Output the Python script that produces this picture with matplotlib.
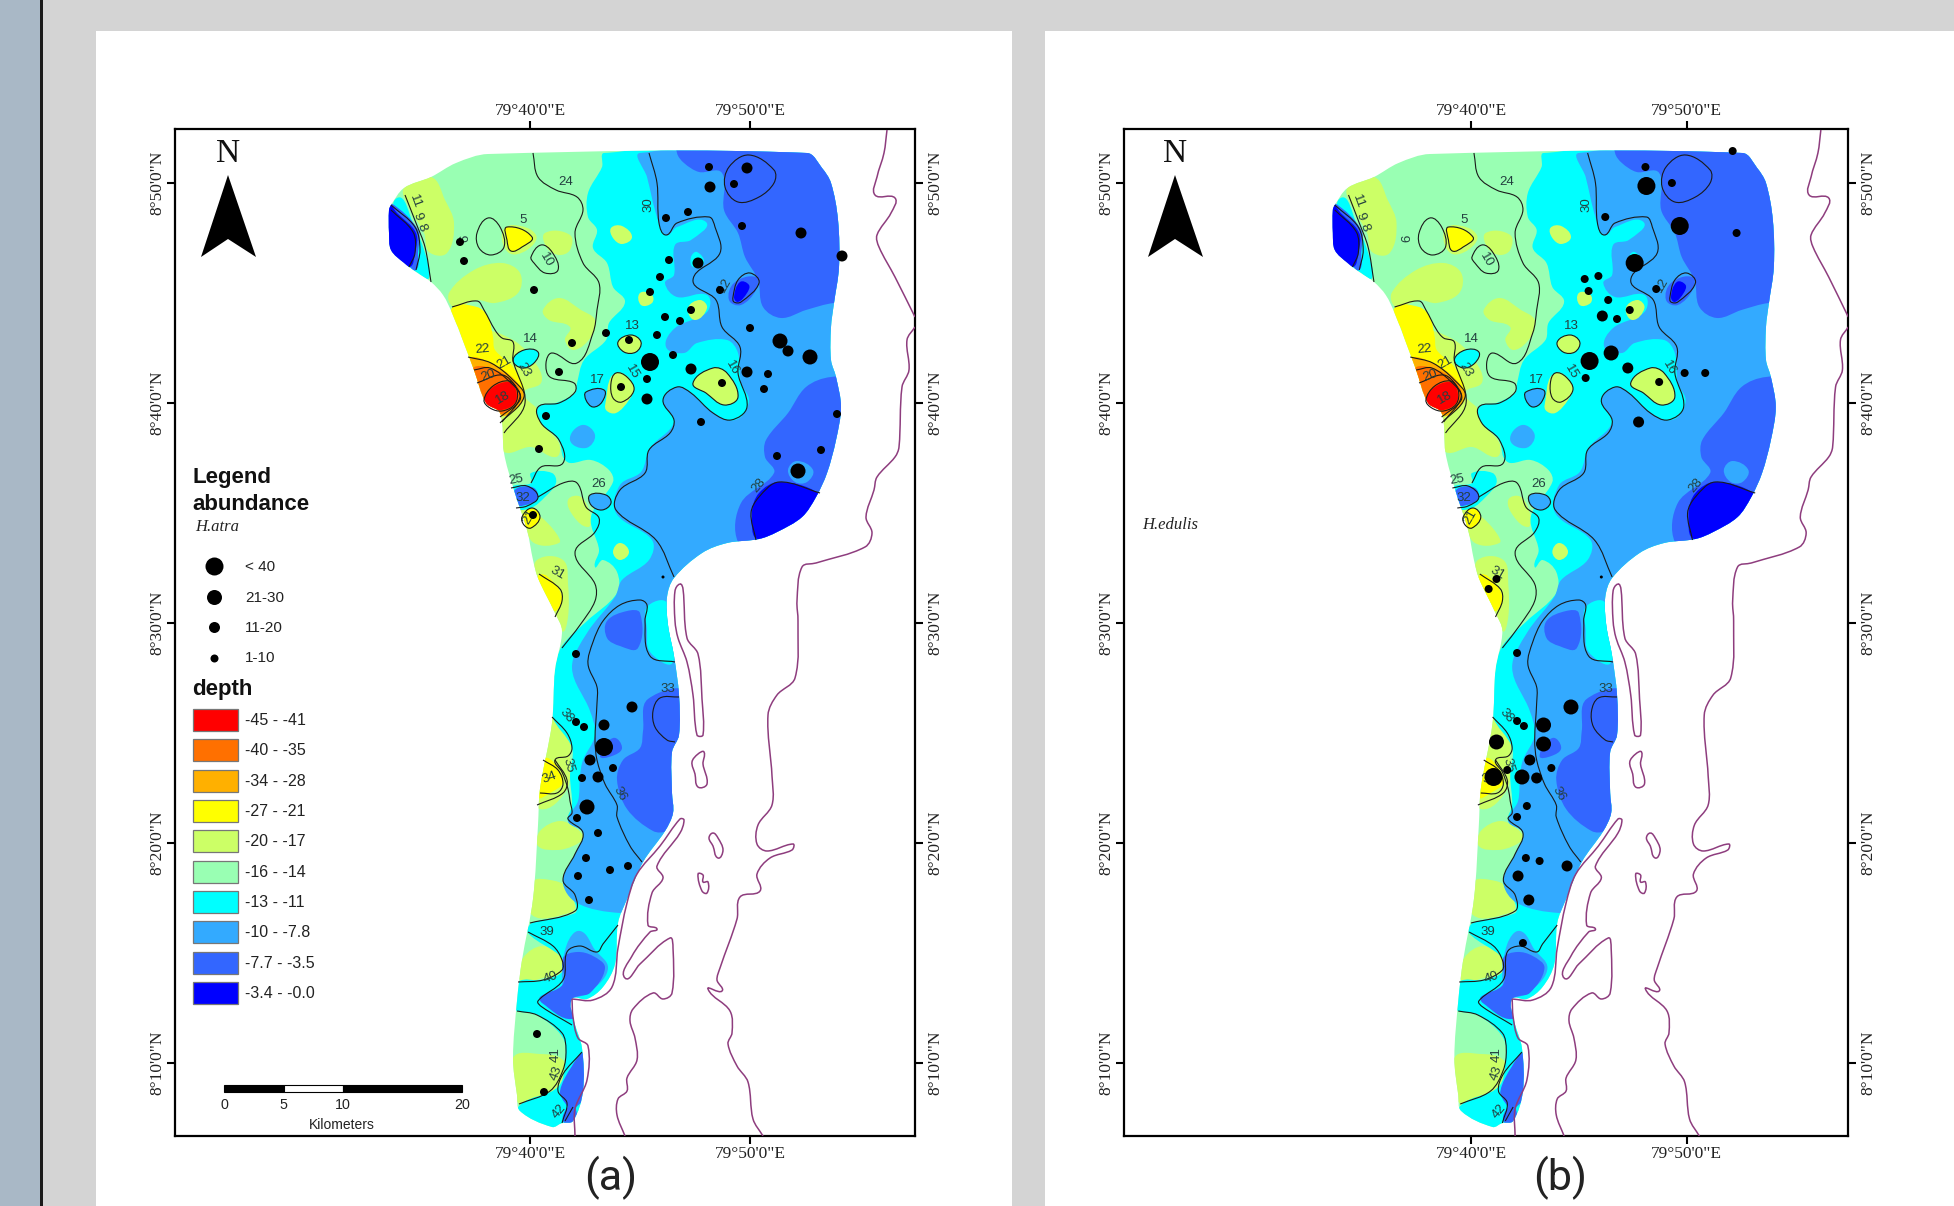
import math
import matplotlib
matplotlib.use('Agg')
import matplotlib.pyplot as plt
from matplotlib.patches import Rectangle, Polygon, PathPatch
from matplotlib.path import Path

W, H = 1954, 1206

# everything below is in map grid units: 22 units = 1 arc minute
# origin of the grid: 79d40'E is at x=530, 8d40'N is at y=403, y grows southward
outline = [(389,210),(391,205),(404,188),(431,177),(456,163),(488,154),(807,153),(822,168),(831,183),(838,220),
           (839,267),(834,303),(831,327),(831,360),(836,377),(841,407),(836,440),(827,473),(816,497),(802,517),
           (777,532),(759,539),(727,543),(702,553),(674,578),(667,597),(668,625),(674,656),(679,695),(679,735),
           (672,752),(672,793),(673,813),(665,831),(643,862),(627,899),(618,923),(615,964),(603,987),(587,999),
           (572,999),(574,1021),(582,1048),(583,1091),(573,1121),(562,1123),(552,1127),(520,1111),(517,1095),(513,1058),
           (517,1001),(522,960),(533,899),(538,825),(540,789),(552,723),(555,670),(562,631),(555,613),(538,578),
           (533,560),(527,530),(513,487),(504,453),(500,413),(486,403),(474,370),(452,313),(443,295),(431,282),
           (416,272),(404,263),(391,250),(389,233)]

lime_patches = [
    [(404,188),(431,177),(445,200),(454,223),(447,253),(429,252),(424,233),(409,207)],
    [(449,293),(474,270),(502,263),(520,273),(518,293),(495,303),(477,300),(454,307)],
    [(502,233),(513,225),(536,235),(527,250),(509,253)],
    [(545,233),(570,235),(570,250),(559,255),(547,248)],
    [(543,310),(559,298),(581,310),(595,320),(591,337),(574,350),(565,340),(570,327),(549,320)],
    [(480,335),(513,340),(538,367),(541,383),(524,393),(538,410),(541,423),(559,443),(556,457),(531,447),(504,452),(480,420)],
    [(520,503),(541,517),(556,533),(559,543),(534,543),(524,523)],
    [(568,500),(581,497),(591,517),(588,527),(574,517)],
    [(537,560),(563,560),(568,584),(568,617),(562,631),(537,580)],
    [(552,717),(570,735),(570,756),(567,789),(540,809),(530,780)],
    [(540,831),(560,821),(577,829),(583,838),(573,846),(557,850),(538,846)],
    [(533,882),(550,880),(567,887),(575,907),(570,913),(532,915)],
    [(523,958),(543,946),(562,958),(562,972),(543,978),(520,980)],
    [(513,1058),(540,1054),(563,1060),(563,1078),(547,1095),(518,1103)],
]
yellow_patches = [
    [(452,308),(477,307),(488,317),(493,337),(495,350),(513,367),(524,393),(511,410),(500,413),(477,383),(459,330)],
    [(507,227),(532,237),(522,247),(511,251),(507,240)],
    [(522,517),(532,508),(540,517),(531,528),(524,525)],
    [(538,576),(547,576),(562,597),(553,611),(540,589)],
    [(545,758),(555,764),(563,782),(550,793),(538,797),(543,768)],
]
amber_patches = [[(468,360),(491,363),(515,380),(524,397),(511,413),(499,415),(481,387)]]
orange_patches = [[(472,370),(491,368),(515,383),(520,397),(507,412),(497,413),(484,400)]]
red_patches = [[(484,400),(493,387),(509,382),(516,390),(515,403),(502,410),(490,407)]]

cyan_patches = [
    [(604,153),(602,167),(588,193),(588,217),(597,230),(593,248),(607,263),(613,287),(625,302),(609,323),
     (606,340),(584,360),(577,383),(575,393),(556,403),(538,407),(541,423),(559,440),(563,457),(570,463),
     (591,460),(609,470),(613,482),(591,517),(599,550),(595,567),(603,560),(617,572),(617,593),(587,621),
     (562,646),(555,670),(552,715),(572,748),(570,776),(572,805),(568,821),(583,833),(575,854),(563,882),
     (575,903),(575,913),(532,923),(528,933),(562,958),(562,972),(543,980),(518,982),(513,1005),(517,1011),
     (537,1015),(563,1038),(565,1062),(558,1087),(520,1105),(513,1131),(713,1131),(900,800),(900,153)],
    [(397,198),(413,223),(425,253),(429,278),(418,273),(406,263),(400,230)],
    [(511,488),(531,483),(531,473),(552,473),(556,483),(545,497),(531,508),(516,508)],
    [(513,360),(524,350),(538,352),(534,363),(522,368)],
]
lightblue_patches = [
    [(640,153),(647,177),(657,217),(666,235),(677,227),(706,222),(691,240),(675,245),(674,275),(665,283),
     (677,297),(707,295),(707,312),(675,328),(666,347),(684,353),(697,343),(727,340),(738,353),(741,383),
     (749,400),(741,417),(727,420),(706,407),(684,388),(670,390),(663,403),(674,422),(650,448),(641,472),
     (620,485),(616,513),(652,540),(649,560),(622,580),(615,597),(587,633),(572,668),(590,711),(595,735),
     (583,760),(580,776),(578,801),(568,821),(583,833),(575,854),(563,882),(577,903),(620,913),(713,913),
     (900,800),(900,153)],
    [(586,392),(604,390),(602,402),(593,407),(586,400)],
    [(582,425),(595,435),(586,448),(570,440)],
    [(590,495),(606,495),(611,503),(602,510),(591,505)],
    [(567,944),(580,931),(595,950),(608,968),(593,989),(570,997),(562,980)],
]
cyan_pockets = [
    [(647,607),(667,603),(673,662),(650,652),(647,629)],
    [(697,252),(704,263),(693,267),(691,257)],
]
midblue_patches = [
    [(677,153),(684,163),(699,172),(722,173),(724,210),(738,233),(745,257),(758,280),(763,307),(781,318),
     (806,310),(834,303),(900,300),(900,130),(677,130)],
    [(734,283),(756,277),(756,290),(741,305),(729,300)],
    [(831,377),(806,387),(788,413),(766,440),(765,457),(774,473),(741,503),(738,542),(763,553),(900,500),(900,377)],
    [(391,203),(418,230),(418,253),(416,270),(406,263),(380,250),(380,205)],
    [(513,493),(520,487),(534,488),(538,497),(532,503),(516,505)],
    [(607,621),(627,611),(640,613),(638,648),(620,646),(607,638)],
    [(648,699),(690,695),(690,815),(667,831),(653,831),(627,809),(617,780),(623,760),(640,748),(643,731)],
    [(613,738),(622,748),(612,756),(600,756)],
    [(563,958),(577,952),(593,956),(605,968),(590,993),(573,999),(572,1019),(542,1003),(540,997),(563,984)],
    [(560,1091),(572,1066),(584,1054),(587,1091),(573,1109),(565,1103)],
    [(563,1121),(568,1107),(575,1107),(575,1125)],
]
lightblue_pockets = [[(788,470),(797,461),(813,470),(807,482),(795,482)]]
deep_patches = [
    [(389,205),(397,213),(416,233),(415,253),(409,267),(380,253)],
    [(734,297),(740,282),(749,285),(747,293),(738,302)],
    [(779,482),(818,493),(816,507),(759,539),(752,513),(759,493)],
]
lime_blobs = [
    [(611,228),(622,226),(632,237),(622,244),(613,238)],
    [(640,293),(652,295),(652,303),(641,305)],
    [(688,308),(700,300),(707,308),(695,320)],
    [(620,543),(629,552),(620,560),(613,552)],
    [(611,377),(622,373),(634,387),(629,400),(616,413),(606,410),(606,400)],
    [(693,383),(713,368),(727,373),(738,397),(724,405),(706,393)],
    [(618,342),(631,335),(641,342),(636,352),(624,352)],
]

contours_open = [
    [(533,153),(538,177),(556,190),(577,197),(583,210),(575,233),(583,263),(599,283),(597,310),(593,333),(577,363),
     (552,353),(546,363),(550,377),(574,383),(575,392),(559,403),(538,407),(541,423),(559,440),(563,463),(541,467),(531,483)],
    [(538,497),(563,483),(577,483),(586,507),(599,518),(595,532),(575,553),(595,584),(595,601),(580,625),(562,648)],
    [(649,153),(657,183),(659,223),(666,235),(677,223),(709,217),(715,227),(720,253),(693,280),(716,300),(722,327),
     (740,347),(738,373),(747,407),(731,420),(713,413),(691,393),(677,387),(663,400),(674,420),(670,433),(649,450),
     (645,473),(620,490),(616,510),(656,540),(674,577)],
    [(452,307),(477,301),(484,310),(495,330),(502,338),(513,342),(513,360),(525,403),(504,433)],
    [(468,357),(491,363),(513,380),(524,397),(500,423)],
    [(474,370),(490,368),(511,383),(520,397),(502,422)],
    [(477,383),(502,375),(516,387),(520,400),(500,417)],
    [(405,195),(416,223),(425,247),(431,282)],
    [(391,205),(415,227),(420,250),(416,270)],
    [(391,210),(413,232),(415,253),(409,267)],
    [(756,540),(751,513),(759,497),(779,482),(820,493)],
    [(511,488),(527,486),(538,497),(527,506),(516,508)],
    [(539,574),(560,589),(562,601),(555,617)],
    [(675,662),(650,656),(645,621),(647,605),(640,600),(620,605),(603,621),(593,642),(588,664),(597,687),(597,703),
     (595,740),(597,760),(605,784),(617,805),(617,817),(630,846),(642,862)],
    [(679,697),(660,698),(653,711),(655,727),(667,740),(675,742)],
    [(552,717),(567,733),(572,748),(568,756),(555,760),(562,772),(568,789),(570,801),(572,813),(568,819),(583,833),
     (575,854),(563,880),(575,895),(575,911),(530,923)],
    [(543,760),(558,770),(563,784),(557,793),(540,793)],
    [(537,805),(563,793),(567,780),(555,760)],
    [(528,932),(553,946),(562,960),(562,970),(543,980),(518,982)],
    [(618,925),(603,944),(597,952),(580,946),(567,952),(563,980),(538,1001),(542,1007),(572,1025)],
    [(517,1011),(537,1015),(562,1033),(566,1050),(563,1070),(550,1091),(519,1104)],
    [(582,1052),(563,1074),(558,1091),(567,1103),(562,1123)],
    [(573,1107),(565,1121)],
]
contours_closed = [
    [(749,155),(774,170),(774,183),(759,197),(738,202),(725,187),(729,167)],
    [(477,233),(488,218),(500,227),(504,247),(491,255),(479,248)],
    [(507,227),(532,237),(522,247),(511,251),(507,240)],
    [(531,257),(541,245),(552,252),(558,270),(545,273),(534,263)],
    [(733,297),(738,280),(750,273),(759,283),(741,302),(734,302)],
    [(618,342),(631,335),(641,342),(636,352),(624,352)],
    [(513,360),(524,350),(538,352),(534,363),(522,368)],
    [(611,383),(616,373),(627,377),(634,390),(622,402),(613,398)],
    [(693,383),(713,368),(727,373),(738,397),(724,405),(706,393)],
    [(586,392),(604,390),(602,402),(593,407),(586,400)],
    [(590,495),(606,495),(611,503),(602,510),(591,505)],
    [(484,400),(493,386),(509,381),(517,390),(515,404),(502,411),(490,408)],
    [(522,517),(532,508),(540,517),(531,528),(524,525)],
]
coast_open = [
    [(887,130),(884,153),(877,177),(875,195),(895,198),(891,213),(877,235),(879,247),(895,277),(915,317)],
    [(915,327),(907,340),(909,370),(902,387),(899,447),(895,457),(877,477),(874,490),(866,517),(872,533),(865,547),
     (816,563),(802,567),(797,601),(798,621),(795,678),(777,695),(768,715),(772,776),(772,805),(758,825),(757,844),
     (767,851),(793,844),(792,850),(770,858),(757,874),(760,891),(740,897),(737,919),(720,968),(717,980),(722,991),
     (708,989),(730,1011),(732,1033),(728,1044),(737,1066),(748,1082),(753,1119),(763,1136)],
    [(572,999),(593,1000),(612,987),(618,948),(627,903),(637,874),(660,846),(680,819),(684,820),(680,833),(657,866),
     (663,878),(652,893),(648,925),(657,929),(650,932),(632,956),(625,978),(640,964),(670,938),(673,948),(672,993),
     (663,999),(653,993),(633,1009),(630,1021),(635,1038),(637,1060),(627,1078),(627,1091),(618,1099),(617,1115),(625,1136)],
    [(572,999),(573,1017),(578,1038),(588,1046),(587,1080),(575,1109),(575,1136)],
]
coast_closed = [
    [(680,584),(675,591),(675,621),(678,638),(687,662),(693,695),(697,735),(703,735),(702,699),(698,654),(687,638),(683,589)],
    [(698,754),(704,752),(703,764),(707,784),(698,787),(695,774),(692,762)],
    [(713,833),(718,838),(723,850),(718,858),(713,846),(709,838)],
    [(698,874),(703,875),(703,882),(708,882),(707,893),(702,891)],
]

# station, grid x, grid y, abundance class
atra_stations = [(709,167,1),(747,168,2),(734,184,1),(710,187,2),(688,212,1),(666,218,1),(742,226,1),(801,233,2),
                 (460,242,1),(464,261,1),(842,256,2),(669,260,1),(698,263,2),(660,277,1),(534,290,1),(650,292,1),
                 (720,290,1),(665,317,1),(691,310,1),(680,321,1),(750,328,1),(606,333,1),(657,335,1),(629,340,1),
                 (572,343,1),(780,341,3),(788,351,2),(810,357,3),(673,355,1),(650,362,4),(559,372,1),(691,369,2),
                 (747,372,2),(768,374,1),(647,379,1),(722,383,1),(621,387,1),(764,389,1),(647,399,2),(546,416,1),
                 (837,414,1),(701,422,1),(539,449,1),(821,450,1),(777,456,1),(798,471,3),(533,515,1),(663,577,0),
                 (576,654,1),(632,707,2),(576,722,1),(584,727,1),(604,725,2),(604,747,4),(590,760,2),(613,768,1),
                 (582,778,1),(598,777,2),(587,807,3),(577,818,1),(598,833,1),(586,858,1),(578,876,1),(610,870,1),
                 (628,866,1),(589,900,1),(537,1034,1),(544,1092,1)]
edulis_stations = [(708,167,1),(797,151,1),(709,186,4),(735,183,1),(667,217,1),(743,226,4),(801,233,1),(697,263,4),
                   (646,279,1),(660,276,1),(650,291,1),(719,289,1),(670,300,1),(692,310,1),(664,316,2),(679,319,1),
                   (651,361,4),(673,353,3),(690,368,2),(748,373,1),(769,373,1),(647,378,1),(722,382,1),(701,422,2),
                   (663,577,0),(556,579,1),(548,589,1),(577,653,1),(632,707,3),(577,721,1),(584,726,1),(604,725,3),
                   (604,744,3),(556,742,3),(590,760,2),(612,768,1),(567,770,1),(553,777,4),(582,777,3),(597,778,2),
                   (587,806,1),(577,817,1),(586,858,1),(600,861,1),(628,866,2),(578,876,2),(589,900,2),(583,943,1)]

depth_labels = [('11',415,202,-70),('9',417,216,-70),('8',421,227,-70),('6',465,238,90),('5',523,220,0),('10',546,260,-60),
                ('24',566,182,0),('30',648,205,90),('12',725,285,60),('13',632,326,0),('14',530,339,0),('22',482,349,5),
                ('21',504,363,30),('23',524,370,-60),('20',488,376,20),('18',503,398,30),('17',597,380,0),('15',632,372,-60),
                ('16',732,368,-60),('25',516,480,10),('32',523,498,0),('26',599,484,0),('28',759,485,50),('21',529,517,60),
                ('31',557,573,-30),('33',668,689,0),('38',566,716,-50),('35',568,765,-75),('34',549,778,20),('36',620,794,-60),
                ('39',547,932,0),('40',551,978,20),('41',556,1055,90),('43',556,1073,70),('42',559,1111,50)]

x_ticks = [79 + 40/60, 79 + 50/60]
x_tick_labels = ['79°40\'0"E', '79°50\'0"E']
y_ticks = [8 + 50/60, 8 + 40/60, 8 + 30/60, 8 + 20/60, 8 + 10/60]
y_tick_labels = ['8°50\'0"N', '8°40\'0"N', '8°30\'0"N', '8°20\'0"N', '8°10\'0"N']

depth_classes = ['-45 - -41', '-40 - -35', '-34 - -28', '-27 - -21', '-20 - -17',
                 '-16 - -14', '-13 - -11', '-10 - -7.8', '-7.7 - -3.5', '-3.4 - -0.0']
depth_colors = ['#FF0000', '#FF7000', '#FFB000', '#FFFF00', '#CCFF66',
                '#99FFB3', '#00FFFF', '#33AAFF', '#3366FF', '#0000FF']
abundance_classes = ['< 40', '21-30', '11-20', '1-10']
scale_km = [0, 5, 10, 20]

dot_radius_px = {0: 1.5, 1: 4, 2: 5.5, 3: 7.5, 4: 9}
SERIF = 'Liberation Serif'
SANS = 'Liberation Sans'
INK = '#1a1a1a'
COAST = '#8E3D7E'


def lon(x):
    return 79 + 40/60 + (x - 530) / 22 / 60


def lat(y):
    return 8 + 40/60 - (y - 403) / 22 / 60


def smooth(pts, closed=True):
    # bezier through the read vertices, handles a third of each segment so nothing overshoots
    n = len(pts)
    segs = n if closed else n - 1
    tangents = []
    for i in range(n):
        if closed:
            a, b = pts[i - 1], pts[(i + 1) % n]
        else:
            a, b = pts[max(i - 1, 0)], pts[min(i + 1, n - 1)]
        dx, dy = b[0] - a[0], b[1] - a[1]
        d = math.hypot(dx, dy) or 1
        tangents.append((dx / d, dy / d))
    verts = [(lon(pts[0][0]), lat(pts[0][1]))]
    codes = [Path.MOVETO]
    for i in range(segs):
        j = (i + 1) % n
        p, q = pts[i], pts[j]
        h = math.hypot(q[0] - p[0], q[1] - p[1]) / 3
        c1 = (p[0] + tangents[i][0] * h, p[1] + tangents[i][1] * h)
        c2 = (q[0] - tangents[j][0] * h, q[1] - tangents[j][1] * h)
        verts += [(lon(c1[0]), lat(c1[1])), (lon(c2[0]), lat(c2[1])), (lon(q[0]), lat(q[1]))]
        codes += [Path.CURVE4] * 3
    return Path(verts, codes)


def draw_map(x0, x1, stations, x_scale):
    ax = fig.add_axes([x0 / W, 1 - 1136 / H, (x1 - x0) / W, (1136 - 129) / H], zorder=2)
    ax.set_xlim(lon(530 + (x0 - tick_x[x0]) / x_scale), lon(530 + (x1 - tick_x[x0]) / x_scale))
    ax.set_ylim(lat(1136), lat(129))
    ax.set_xticks(x_ticks, x_tick_labels, family=SERIF, fontsize=12.5, color='#222222')
    ax.set_yticks(y_ticks, y_tick_labels, family=SERIF, fontsize=12.5, color='#222222')
    ax.tick_params(axis='both', length=6, width=1.5, top=True, bottom=True, left=True, right=True,
                   labeltop=True, labelbottom=True, labelleft=True, labelright=True)
    ax.tick_params(axis='x', pad=1.5)
    ax.tick_params(axis='y', pad=1, labelrotation=90)
    for tick in ax.yaxis.get_major_ticks():
        tick.label1.set_va('center')
        tick.label2.set_va('center')
        tick.label2.set_x(1.003)
    for s in ax.spines.values():
        s.set_linewidth(1.6)

    shape = PathPatch(smooth(outline), fc=depth_colors[5], ec='none', zorder=1)
    ax.add_patch(shape)
    layers = [(lime_patches, 4), (yellow_patches, 3), (amber_patches, 2), (orange_patches, 1), (red_patches, 0),
              (cyan_patches, 6), (lightblue_patches, 7), (cyan_pockets, 6), (midblue_patches, 8),
              (lightblue_pockets, 7), (deep_patches, 9), (lime_blobs, 4)]
    z = 2
    for group, c in layers:
        for poly in group:
            p = PathPatch(smooth(poly), fc=depth_colors[c], ec='none', zorder=z)
            ax.add_patch(p)
            p.set_clip_path(shape)
        z += 0.1

    for line in contours_open:
        ax.add_patch(PathPatch(smooth(line, closed=False), fc='none', ec=INK, lw=0.8, zorder=4))
    for line in contours_closed:
        ax.add_patch(PathPatch(smooth(line), fc='none', ec=INK, lw=0.8, zorder=4))
    for line in coast_open:
        ax.add_patch(PathPatch(smooth(line, closed=False), fc='none', ec=COAST, lw=1.1, zorder=4))
    for line in coast_closed:
        ax.add_patch(PathPatch(smooth(line), fc='none', ec=COAST, lw=1.1, zorder=4))

    for txt, x, y, rot in depth_labels:
        ax.text(lon(x), lat(y), txt, family=SANS, fontsize=9.5, rotation=rot, ha='center', va='center',
                color='#23403f', zorder=5)

    sx = [lon(s[0]) for s in stations]
    sy = [lat(s[1]) for s in stations]
    sizes = [(2 * dot_radius_px[s[2]] * 0.72) ** 2 for s in stations]
    ax.scatter(sx, sy, s=sizes, c='black', linewidths=0, zorder=6)
    return ax


tick_x = {175: 530, 1124: 1471}

fig = plt.figure(figsize=(W / 100, H / 100), dpi=100, facecolor='#D4D4D4')

# page furniture and legend live on two full-figure axes counted in image pixels
back = fig.add_axes([0, 0, 1, 1], zorder=0)
back.set_xlim(0, W)
back.set_ylim(H, 0)
back.axis('off')
back.add_patch(Rectangle((0, 0), 40, H, fc='#A9B8C6', ec='none'))
back.add_patch(Rectangle((40, 0), 2.5, H, fc='#1a1a1a', ec='none'))
back.add_patch(Rectangle((96, 31), 916, H - 31, fc='white', ec='none'))
back.add_patch(Rectangle((1045, 31), W - 1045, H - 31, fc='white', ec='none'))

draw_map(175, 915, atra_stations, 1.0)
draw_map(1124, 1848, edulis_stations, 0.98)

top = fig.add_axes([0, 0, 1, 1], zorder=3)
top.set_xlim(0, W)
top.set_ylim(H, 0)
top.axis('off')

for cx in (228, 1175):
    top.text(cx, 154, 'N', family=SERIF, fontsize=24, ha='center', va='center', color='#111111')
    top.add_patch(Polygon([(cx, 175), (cx - 27, 257), (cx, 239), (cx + 28, 257)], fc='black', ec='none'))

top.text(192, 478, 'Legend', family=SANS, weight='bold', fontsize=16, va='center', color='#111111')
top.text(192, 504, 'abundance', family=SANS, weight='bold', fontsize=16, va='center', color='#111111')
top.text(195, 527, 'H.atra', family=SERIF, style='italic', fontsize=12, va='center', color='#222222')
top.text(1142, 525, 'H.edulis', family=SERIF, style='italic', fontsize=12, va='center', color='#222222')
for i, label in enumerate(abundance_classes):
    y = 566 + i * 30.5
    r = [9, 7.5, 5.5, 4][i]
    top.scatter([214], [y], s=(2 * r * 0.72) ** 2, c='black', linewidths=0)
    top.text(245, y + 1, label, family=SANS, fontsize=11, va='center', color='#222222')
top.text(192, 689, 'depth', family=SANS, weight='bold', fontsize=16, va='center', color='#111111')
for i, (label, col) in enumerate(zip(depth_classes, depth_colors)):
    y = 720 + i * 30.35
    top.add_patch(Rectangle((192.5, y - 11), 45.5, 22, fc=col, ec='#777777', lw=0.9))
    top.text(245, y + 0.5, label, family=SANS, fontsize=11.5, va='center', color='#222222')

# scale bar, 20 km is 238 px on the sheet
bar_x = [224 + km * 11.9 for km in scale_km]
for i in range(3):
    top.add_patch(Rectangle((bar_x[i], 1085), bar_x[i + 1] - bar_x[i], 7, fc='white' if i == 1 else 'black',
                            ec='black', lw=0.8))
for km, x in zip(scale_km, bar_x):
    top.text(x, 1105, str(km), family=SANS, fontsize=10.3, ha='center', va='center', color='#222222')
top.text(342, 1125, 'Kilometers', family=SANS, fontsize=10, ha='center', va='center', color='#222222')

top.text(611, 1178, '(a)', family='Roboto', fontsize=31, ha='center', va='center', color='#222222')
top.text(1560, 1178, '(b)', family='Roboto', fontsize=31, ha='center', va='center', color='#222222')

plt.savefig('out.png', dpi=100, facecolor=fig.get_facecolor())
